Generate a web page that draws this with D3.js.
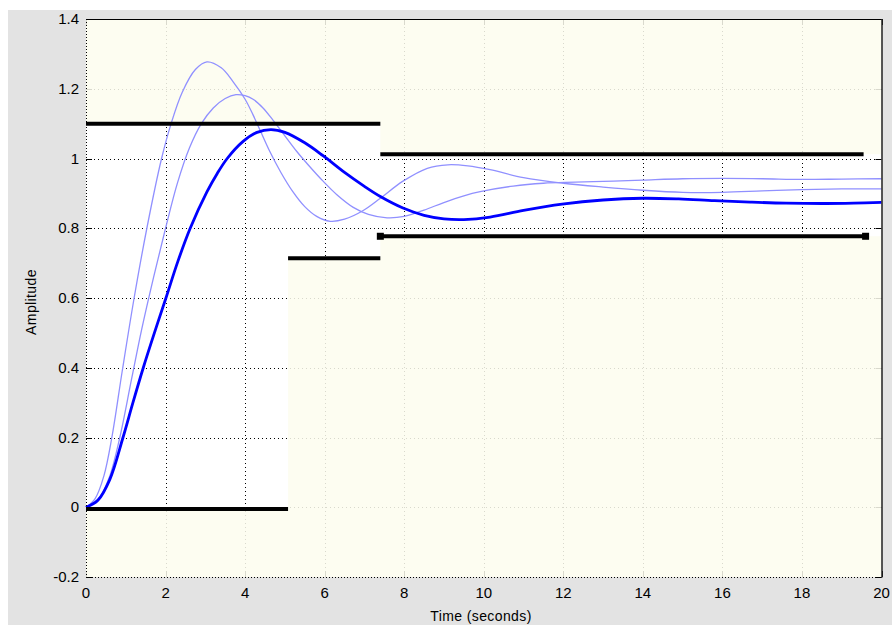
<!DOCTYPE html>
<html><head><meta charset="utf-8">
<script src="https://cdn.jsdelivr.net/npm/d3@7"></script>
<style>html,body{margin:0;padding:0;background:#fff;}svg{display:block;}</style>
</head><body>
<svg id="c" width="892" height="625"></svg>
<script>
// ---- data ----
const xTicks = [0,2,4,6,8,10,12,14,16,18,20];
const yTicks = [-0.2,0,0.2,0.4,0.6,0.8,1,1.2,1.4];
const yTickLabels = ["-0.2","0","0.2","0.4","0.6","0.8","1","1.2","1.4"];

// bold (design) response
const boldT = [0,0.3,0.6,0.93,1.18,1.44,1.72,2.01,2.31,2.62,3.04,3.3,3.55,3.95,4.3,4.65,5.0,5.5,5.96,6.5,7.0,7.4,7.97,8.5,9.0,9.5,10.16,11.0,11.97,13.0,14.0,14.9,15.8,16.7,17.6,18.6,19.3,20];
const boldV = [0,0.02,0.08,0.2,0.3,0.4,0.5,0.6,0.705,0.8,0.904,0.957,1.0,1.049,1.075,1.083,1.075,1.045,1.008,0.96,0.92,0.891,0.858,0.837,0.827,0.825,0.832,0.851,0.869,0.881,0.886,0.884,0.879,0.875,0.872,0.871,0.872,0.874];

// light response A (largest overshoot)
const aT = [0,0.23,0.45,0.65,0.91,1.21,1.53,1.9,2.14,2.42,2.75,3.04,3.4,3.7,4.0,4.2,4.4,4.6,4.9,5.2,5.5,5.8,6.14,6.5,6.97,7.4,7.97,8.58,9.1,9.6,10.16,11.0,12.0,13.0,14.0,15.0,16.0,17.0,18.0,19.0,20];
const aV = [0,0.025,0.09,0.2,0.39,0.6,0.8,1.0,1.1,1.19,1.255,1.277,1.26,1.22,1.17,1.125,1.075,1.025,0.96,0.905,0.862,0.834,0.82,0.826,0.851,0.886,0.935,0.972,0.982,0.979,0.968,0.945,0.929,0.918,0.909,0.903,0.903,0.907,0.911,0.913,0.913];

// light response B
const bT = [0,0.35,0.6,0.85,1.15,1.4,1.7,2.0,2.3,2.6,2.9,3.2,3.5,3.77,4.0,4.2,4.45,4.7,5.0,5.3,5.6,5.96,6.3,6.72,7.1,7.57,8.0,8.5,8.98,9.5,9.91,10.74,11.5,12.3,13.26,14.0,15.0,16.0,17.0,18.0,19.0,20];
const bV = [0,0.03,0.09,0.2,0.37,0.51,0.66,0.8,0.93,1.03,1.1,1.145,1.172,1.183,1.18,1.17,1.145,1.11,1.065,1.02,0.98,0.935,0.897,0.86,0.84,0.83,0.834,0.852,0.873,0.893,0.905,0.921,0.929,0.932,0.935,0.938,0.942,0.943,0.942,0.94,0.941,0.942];

// step-response bound segments
const upperStart = [0,7.4], upperEnd = [7.4,19.55], upperValue = [1.1,1.012];
const lowerStart = [0,5.08,7.4], lowerEnd = [5.08,7.4,19.6], lowerValue = [-0.005,0.714,0.777];

// ---- drawing ----
const svg = d3.select("#c");
const font = "'Liberation Sans', Arial, sans-serif";
const L = 86, R = 881.5, T = 19, B = 577;
const x = d3.scaleLinear().domain([0,20]).range([L,R]);
const y = d3.scaleLinear().domain([-0.2,1.4]).range([B,T]);

svg.append("rect").attr("x",8).attr("y",10).attr("width",884).attr("height",615).attr("fill","#e3e3e3");
svg.append("rect").attr("x",L).attr("y",T).attr("width",R-L).attr("height",B-T).attr("fill","#ffffff");

// grid (black dotted, shows faint under patches)
const grid = svg.append("g").attr("stroke","#000").attr("stroke-width",1).attr("stroke-dasharray","1,3");
xTicks.slice(1,-1).forEach(t => grid.append("line").attr("x1",Math.round(x(t))+0.5).attr("x2",Math.round(x(t))+0.5).attr("y1",T).attr("y2",B));
yTicks.slice(1,-1).forEach(v => grid.append("line").attr("y1",Math.round(y(v))+0.5).attr("y2",Math.round(y(v))+0.5).attr("x1",L).attr("x2",R));

// tick marks (inside)
const tk = svg.append("g").attr("stroke","#000").attr("stroke-width",1);
xTicks.forEach(t => {
  const px = Math.round(x(t))+0.5;
  tk.append("line").attr("x1",px).attr("x2",px).attr("y1",B).attr("y2",B-6);
  tk.append("line").attr("x1",px).attr("x2",px).attr("y1",T).attr("y2",T+6);
});
yTicks.forEach(v => {
  const py = Math.round(y(v))+0.5;
  tk.append("line").attr("x1",L).attr("x2",L+6).attr("y1",py).attr("y2",py);
  tk.append("line").attr("x1",R).attr("x2",R-6).attr("y1",py).attr("y2",py);
});

// infeasible (cream) region = plot rect minus feasible polygon
const lastU = upperStart.length-1, lastL = lowerStart.length-1;
let poly = [];
lowerStart.forEach((s,i) => {
  const e = (i===lastL) ? 20 : lowerEnd[i];
  poly.push([x(s),y(lowerValue[i])],[x(e),y(lowerValue[i])]);
});
for (let i=lastU;i>=0;i--) {
  const e = (i===lastU) ? 20 : upperEnd[i];
  poly.push([x(e),y(upperValue[i])],[x(upperStart[i]),y(upperValue[i])]);
}
const outer = `M${L},${T}H${R}V${B}H${L}Z`;
const inner = "M" + poly.map(p=>p.join(",")).join("L") + "Z";
svg.append("path").attr("d",outer+inner).attr("fill-rule","evenodd")
  .attr("fill","#fdfdef").attr("fill-opacity",0.86);

// responses
const line = d3.line().x(d=>x(d[0])).y(d=>y(d[1])).curve(d3.curveCatmullRom.alpha(0.5));
svg.append("path").attr("d",line(aT.map((t,i)=>[t,aV[i]]))).attr("fill","none").attr("stroke","#9090ff").attr("stroke-width",1.3);
svg.append("path").attr("d",line(bT.map((t,i)=>[t,bV[i]]))).attr("fill","none").attr("stroke","#9090ff").attr("stroke-width",1.3);
svg.append("path").attr("d",line(boldT.map((t,i)=>[t,boldV[i]]))).attr("fill","none").attr("stroke","#0000ff").attr("stroke-width",2.8);

// bound lines
const bg = svg.append("g").attr("stroke","#000").attr("stroke-width",4);
upperStart.forEach((s,i)=> bg.append("line").attr("x1",x(s)).attr("x2",x(upperEnd[i])).attr("y1",y(upperValue[i])).attr("y2",y(upperValue[i])));
lowerStart.forEach((s,i)=> bg.append("line").attr("x1",x(s)).attr("x2",x(lowerEnd[i])).attr("y1",y(lowerValue[i])).attr("y2",y(lowerValue[i])));
// end markers on last lower segment
[lowerStart[lastL], lowerEnd[lastL]].forEach(t => svg.append("rect")
  .attr("x",x(t)-3.5).attr("y",y(lowerValue[lastL])-3.5).attr("width",7).attr("height",7).attr("fill","#000"));

// axes frame
svg.append("line").attr("x1",L).attr("x2",R+1).attr("y1",T+0.5).attr("y2",T+0.5).attr("stroke","#000").attr("stroke-width",1.2);
svg.append("line").attr("x1",R+0.5).attr("x2",R+0.5).attr("y1",T).attr("y2",B+0.5).attr("stroke","#222").attr("stroke-width",1.5);
svg.append("line").attr("x1",L+0.5).attr("x2",L+0.5).attr("y1",T).attr("y2",B).attr("stroke","#000").attr("stroke-dasharray","1,2");
svg.append("line").attr("x1",L).attr("x2",R).attr("y1",B+0.5).attr("y2",B+0.5).attr("stroke","#000").attr("stroke-dasharray","1,2");

// tick labels
const lab = svg.append("g").attr("font-family",font).attr("font-size",15).attr("fill","#000");
xTicks.forEach(t => lab.append("text").attr("x",x(t)).attr("y",B+21).attr("text-anchor","middle").text(t));
yTicks.forEach((v,i) => lab.append("text").attr("x",L-7).attr("y",y(v)+5).attr("text-anchor","end").text(yTickLabels[i]));

// axis labels
svg.append("text").attr("x",481).attr("y",621).attr("text-anchor","middle").attr("font-family",font).attr("font-size",14).attr("letter-spacing","0.4").text("Time (seconds)");
svg.append("text").attr("transform","translate(36,302) rotate(-90)").attr("text-anchor","middle").attr("font-family",font).attr("font-size",14).attr("letter-spacing","0.4").text("Amplitude");
</script>
</body></html>
